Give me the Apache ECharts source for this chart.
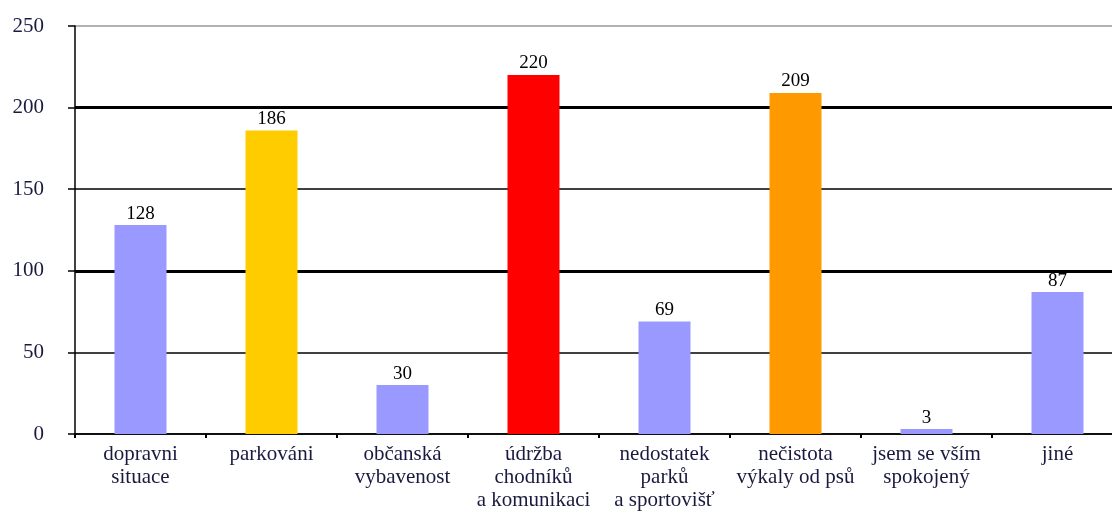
<!DOCTYPE html>
<html>
<head>
<meta charset="utf-8">
<script src="https://cdn.jsdelivr.net/npm/echarts@6/dist/echarts.min.js"></script>
<style>
  html, body { margin: 0; padding: 0; background: #fff; }
  #chart { width: 1112px; height: 514px; }
</style>
</head>
<body>
<div id="chart"></div>
<script>
// kategorie a hodnoty
const categories = [
  'dopravni\nsituace',
  'parkováni',
  'občanská\nvybavenost',
  'údržba\nchodníků\na komunikaci',
  'nedostatek\nparků\na sportovišť',
  'nečistota\nvýkaly od psů',
  'jsem se vším\nspokojený',
  'jiné'
];
const values = [128, 186, 30, 220, 69, 209, 3, 87];
const barColors = ['#9999ff', '#ffcc00', '#9999ff', '#ff0000', '#9999ff', '#ff9900', '#9999ff', '#9999ff'];

const font = 'Liberation Serif, Times New Roman, serif';
const chart = echarts.init(document.getElementById('chart'));

chart.setOption({
  animation: false,
  grid: { left: 75, width: 1048, top: 26, bottom: 80, outerBoundsMode: 'none' },
  xAxis: {
    type: 'category',
    data: categories,
    axisLine: { lineStyle: { color: '#000', width: 1.5 } },
    axisTick: { show: true, length: 4, lineStyle: { color: '#000', width: 2 } },
    axisLabel: {
      interval: 0,
      margin: 9,
      fontFamily: font,
      fontSize: 21,
      lineHeight: 23,
      color: '#1a1a40'
    }
  },
  yAxis: [
    {
      type: 'value',
      min: 0,
      max: 250,
      interval: 50,
      axisLine: { show: true, lineStyle: { color: '#000', width: 1.5 } },
      axisTick: { show: true, length: 7, lineStyle: { color: '#000', width: 1.5 } },
      axisLabel: { margin: 31, fontFamily: font, fontSize: 21, color: '#1a1a40' },
      splitLine: { lineStyle: { color: ['#000', '#000', '#000', '#000', '#000', '#999'], width: 1.5 } }
    },
    {
      // silne cary na 100 a 200
      type: 'value',
      min: 0,
      max: 250,
      interval: 100,
      position: 'left',
      axisLine: { show: false },
      axisTick: { show: false },
      axisLabel: { show: false },
      splitLine: { lineStyle: { color: ['transparent', '#000', '#000', 'transparent'], width: 3 } }
    }
  ],
  series: [{
    type: 'bar',
    data: values.map((v, i) => ({ value: v, itemStyle: { color: barColors[i] } })),
    barWidth: 52,
    label: {
      show: true,
      position: 'top',
      distance: 2,
      fontFamily: font,
      fontSize: 19,
      color: '#000'
    }
  }]
});
</script>
</body>
</html>
